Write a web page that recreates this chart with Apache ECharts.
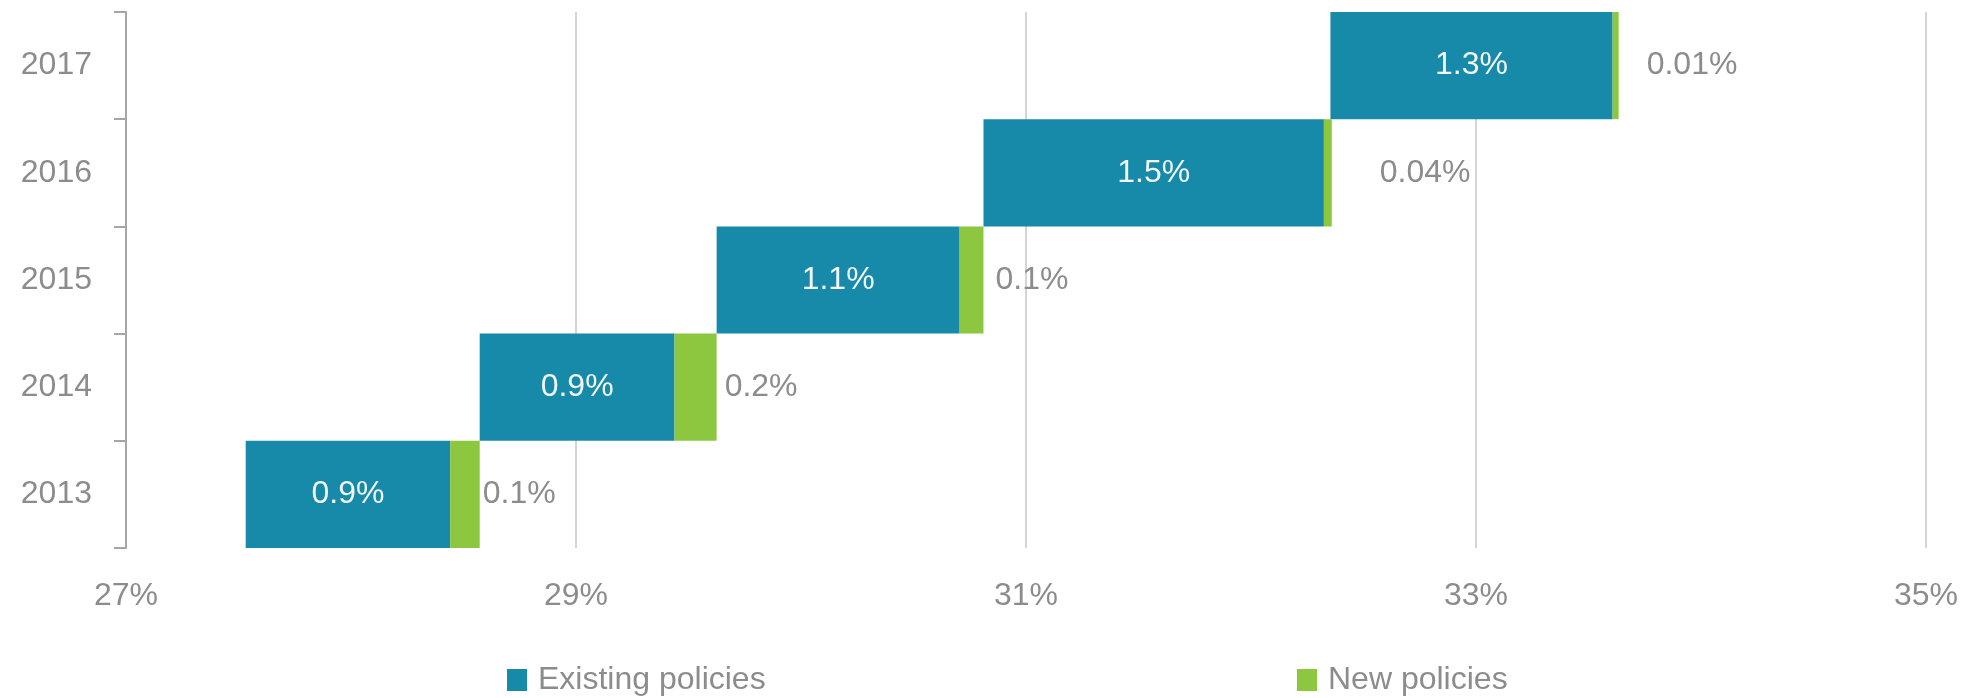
<!DOCTYPE html>
<html>
<head>
<meta charset="utf-8">
<script src="https://cdn.jsdelivr.net/npm/echarts@6/dist/echarts.min.js"></script>
<style>
html,body{margin:0;padding:0;background:#fff;}
#chart{width:1967px;height:698px;}
</style>
</head>
<body>
<div id="chart"></div>
<script>
// ---- data ----
var years = ['2013', '2014', '2015', '2016', '2017'];
var startLevel = [27.532, 28.572, 29.625, 30.811, 32.353];
var existingPolicies = [0.909, 0.866, 1.080, 1.513, 1.254];
var newPolicies = [0.131, 0.187, 0.106, 0.035, 0.027];
var existingLabels = ['0.9%', '0.9%', '1.1%', '1.5%', '1.3%'];
var newLabels = ['0.1%', '0.2%', '0.1%', '0.04%', '0.01%'];
var xTicks = [27, 29, 31, 33, 35];

// ---- chart ----
var FONT = "'Liberation Sans Narrow', 'Arial Narrow', 'Liberation Sans', Arial, sans-serif";
var FS = 32;
var TEAL = '#168aa8';
var GREEN = '#8dc63f';
var GREY = '#8c8c8c';
var newLabelGap = [3, 8, 12, 48, 28];

var chart = echarts.init(document.getElementById('chart'));
var option = {
  animation: false,
  backgroundColor: '#ffffff',
  grid: { left: 126, right: 41, top: 12, bottom: 150, containLabel: false },
  legend: [
    {
      data: ['Existing policies'],
      left: 502, top: 659,
      itemWidth: 20, itemHeight: 22, icon: 'rect',
      textStyle: { fontFamily: FONT, fontSize: FS, color: GREY, padding: [0, 0, 0, 6] }
    },
    {
      data: ['New policies'],
      left: 1292, top: 659,
      itemWidth: 20, itemHeight: 22, icon: 'rect',
      textStyle: { fontFamily: FONT, fontSize: FS, color: GREY, padding: [0, 0, 0, 6] }
    }
  ],
  xAxis: {
    type: 'value',
    min: xTicks[0], max: xTicks[xTicks.length - 1], interval: 2,
    axisLine: { show: false },
    axisTick: { show: false },
    splitLine: { show: true, lineStyle: { color: '#d4d4d4', width: 2 } },
    axisLabel: {
      margin: 32,
      fontFamily: FONT, fontSize: FS, color: GREY,
      formatter: function (v) { return v + '%'; }
    }
  },
  yAxis: {
    type: 'category',
    data: years,
    axisLine: { show: true, lineStyle: { color: '#a6a6a6', width: 2 } },
    axisTick: { show: true, length: 12, lineStyle: { color: '#a6a6a6', width: 2 } },
    axisLabel: { margin: 34, fontFamily: FONT, fontSize: FS, color: GREY },
    splitLine: { show: false }
  },
  series: [
    {
      name: 'base',
      type: 'bar',
      stack: 'total',
      barCategoryGap: 0,
      silent: true,
      itemStyle: { color: 'transparent' },
      data: startLevel
    },
    {
      name: 'Existing policies',
      type: 'bar',
      stack: 'total',
      barCategoryGap: 0,
      itemStyle: { color: TEAL },
      label: {
        show: true, position: 'inside',
        fontFamily: FONT, fontSize: FS, color: '#f2f6f8',
        formatter: function (p) { return existingLabels[p.dataIndex]; }
      },
      data: existingPolicies
    },
    {
      name: 'New policies',
      type: 'bar',
      stack: 'total',
      barCategoryGap: 0,
      itemStyle: { color: GREEN },
      data: newPolicies.map(function (v, i) {
        return {
          value: v,
          label: {
            show: true, position: 'right', distance: newLabelGap[i],
            fontFamily: FONT, fontSize: FS, color: GREY,
            formatter: function () { return newLabels[i]; }
          }
        };
      })
    }
  ]
};
chart.setOption(option);
</script>
</body>
</html>
